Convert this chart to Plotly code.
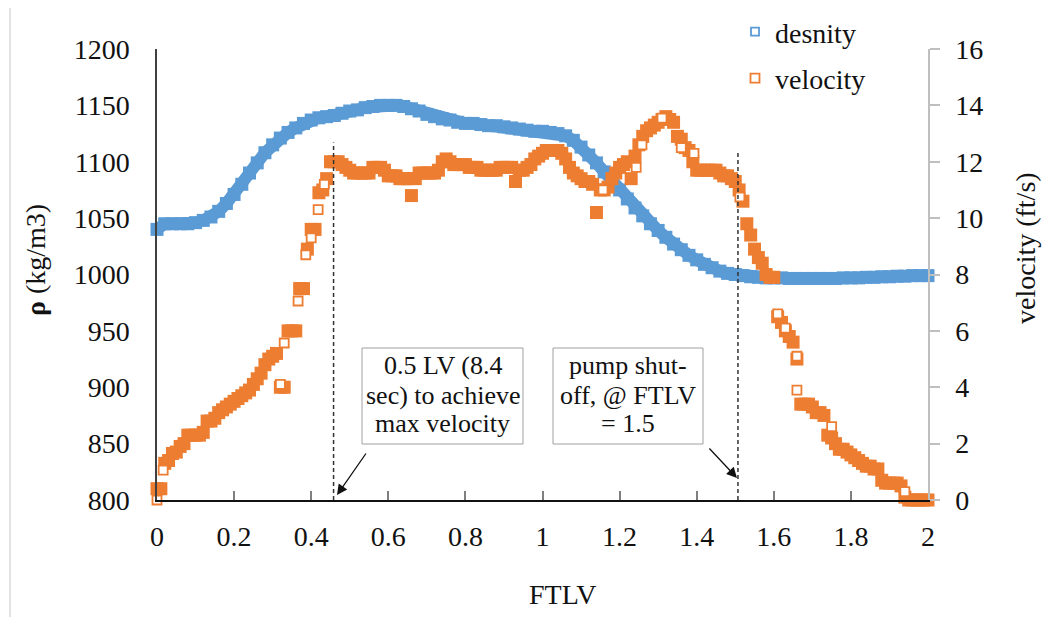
import plotly.graph_objects as go

# ---------------- data ----------------
ftlv_density = [round(i * 0.02, 2) for i in range(101)]
density = [1040, 1045, 1045, 1045, 1045, 1046, 1048, 1051, 1056, 1063,
           1071, 1080, 1090, 1099, 1108, 1115, 1121, 1126, 1130, 1134,
           1137, 1139, 1140, 1141, 1143, 1145, 1146, 1148, 1149, 1150,
           1150, 1150, 1149, 1147, 1145, 1142, 1140, 1138, 1137, 1135,
           1134, 1134, 1133, 1132, 1132, 1131, 1130, 1129, 1128, 1127,
           1127, 1126, 1125, 1123, 1119, 1113, 1106, 1099, 1091, 1083,
           1075, 1067, 1059, 1052, 1045, 1039, 1033, 1027, 1022, 1017,
           1013, 1009, 1006, 1003, 1001, 1000, 999, 998, 997.5, 997,
           997, 997, 996.5, 996.5, 996.5, 996.5, 996.5, 996.5, 996.5, 997,
           997, 997, 997.5, 997.5, 998, 998, 998.5, 998.5, 999, 999, 999]

ftlv_velocity = [round(i * 0.01, 2) for i in range(201)]
velocity = [0.4, 0.4, 1.3, 1.4, 1.65, 1.7, 1.9, 2.0, 2.3, 2.3,
            2.3, 2.3, 2.4, 2.8, 2.8, 2.9, 3.1, 3.2, 3.3, 3.4,
            3.5, 3.6, 3.7, 3.8, 3.9, 4.1, 4.3, 4.5, 4.8, 5.0,
            5.1, 5.2, 4.0, 4.0, 6.0, 6.0, 6.0, 7.5, 7.5, 8.9,
            9.6, 9.6, 10.9, 11.0, 11.4, 12.0, 12.0, 12.0, 11.9, 11.8,
            11.7, 11.6, 11.6, 11.6, 11.6, 11.6, 11.8, 11.8, 11.8, 11.7,
            11.5, 11.5, 11.5, 11.4, 11.4, 11.4, 10.8, 11.4, 11.6, 11.6,
            11.6, 11.6, 11.6, 11.7, 12.0, 12.1, 12.0, 11.9, 11.9, 11.9,
            11.9, 11.8, 11.8, 11.8, 11.7, 11.7, 11.7, 11.7, 11.7, 11.8,
            11.8, 11.8, 11.8, 11.3, 11.7, 11.7, 11.8, 11.9, 12.1, 12.2,
            12.3, 12.4, 12.4, 12.4, 12.4, 12.3, 12.1, 11.8, 11.6, 11.5,
            11.4, 11.3, 11.3, 11.2, 10.2, 11.0, 11.0, 11.1, 11.4, 11.6,
            11.8, 11.9, 12.0, 11.4, 12.2, 12.6, 12.9, 13.1, 13.2, 13.3,
            13.4, 13.5, 13.6, 13.5, 13.4, 12.9, 12.8, 12.5, 12.4, 12.0,
            11.7, 11.7, 11.7, 11.7, 11.7, 11.7, 11.6, 11.5, 11.5, 11.4,
            11.3, 11.0, 10.6, 9.8, 9.4, 8.9, 8.6, 8.4, 8.0, 7.9,
            7.9, 6.5, 6.3, 6.0, 5.8, 5.6, 5.0, 3.4, 3.4, 3.4,
            3.3, 3.1, 3.1, 3.0, 2.3, 2.2, 2.0, 1.8, 1.8, 1.7,
            1.6, 1.5, 1.4, 1.3, 1.2, 1.2, 1.1, 1.1, 0.7, 0.6,
            0.6, 0.6, 0.6, 0.5, 0.1, 0.0, 0.0, 0.0, 0.0, 0.0,
            0.0]

# single (non-overlapped) velocity samples that show as hollow squares
ftlv_velocity_single = [0.0, 0.016, 0.32, 0.33, 0.366, 0.386, 0.40, 0.418, 0.434,
                        1.157, 1.243, 1.258, 1.31, 1.36, 1.393, 1.512,
                        1.61, 1.63, 1.66, 1.66, 1.75, 1.94]
velocity_single = [0.0, 1.06, 4.1, 5.57, 7.06, 8.7, 9.3, 10.3, 11.2,
                   11.0, 11.8, 12.6, 13.55, 12.5, 12.3, 10.75,
                   6.6, 6.1, 5.1, 3.9, 2.6, 0.3]

x_ticks = [0, 0.2, 0.4, 0.6, 0.8, 1, 1.2, 1.4, 1.6, 1.8, 2]
rho_ticks = [800, 850, 900, 950, 1000, 1050, 1100, 1150, 1200]
vel_ticks = [0, 2, 4, 6, 8, 10, 12, 14, 16]

ref_lines_x = [0.458, 1.507]
ref_lines_top = [1117, 1108]

# ---------------- style ----------------
BLUE = "#5B9BD5"
ORANGE = "#ED7D31"
FONT = "'Liberation Serif', 'Times New Roman', Times, 'DejaVu Serif', serif"
TXT = "#111111"

# the page body adds an 8 px offset; size the figure so the plot lands where wanted
OFF = 8
W, H = 1050 - OFF, 617 - OFF
SL, ST = 157, 49          # plot-area left/top in screen pixels
PW, PH = 771, 451         # plot-area size
L, T = SL - OFF, ST - OFF
R, B = W - L - PW, H - T - PH


def px(xp):
    return (xp - SL) / PW


def py(yp):
    return (ST + PH - yp) / PH


fig = go.Figure()

fig.add_trace(go.Scatter(
    x=ftlv_density, y=density, mode="lines+markers", yaxis="y",
    line=dict(color=BLUE, width=12),
    marker=dict(symbol="square", size=13, color=BLUE),
    showlegend=False, cliponaxis=False, hoverinfo="skip"))

fig.add_trace(go.Scatter(
    x=[None], y=[None], mode="markers", name="desnity", legendgroup="d",
    marker=dict(symbol="square", size=8, color="white",
                line=dict(color=BLUE, width=1.8))))

fig.add_trace(go.Scatter(
    x=ftlv_velocity, y=velocity, mode="markers", yaxis="y2",
    marker=dict(symbol="square", size=13, color=ORANGE),
    showlegend=False, cliponaxis=False))

fig.add_trace(go.Scatter(
    x=ftlv_velocity_single, y=velocity_single, mode="markers", yaxis="y2",
    name="velocity", legendgroup="v",
    marker=dict(symbol="square", size=9, color="white",
                line=dict(color=ORANGE, width=1.8)),
    cliponaxis=False))

shapes = []
for xv, top in zip(ref_lines_x, ref_lines_top):
    shapes.append(dict(type="line", xref="x", yref="y", x0=xv, x1=xv, y0=800, y1=top,
                       line=dict(color="#333333", width=1.5, dash="4px,3px")))
# chart outer border (only left and top edges fall inside the view)
shapes.append(dict(type="rect", xref="paper", yref="paper",
                   x0=px(10), x1=px(1070), y0=py(640), y1=py(4),
                   line=dict(color="#D9D9D9", width=1.5), layer="below"))
# annotation boxes
for x0, x1 in [(362, 523), (553, 703)]:
    shapes.append(dict(type="rect", xref="paper", yref="paper",
                       x0=px(x0), x1=px(x1), y0=py(444), y1=py(348),
                       line=dict(color="#A0A0A0", width=1), fillcolor="white"))

annotations = []
box_texts = [(442.5, ["0.5 LV (8.4", "sec) to achieve", "max velocity"]),
             (628, ["pump shut-", "off, @ FTLV", "= 1.5"])]
for cx, lines in box_texts:
    for ly, t in zip([365, 395, 423], lines):
        annotations.append(dict(xref="paper", yref="paper", x=px(cx), y=py(ly),
                                xanchor="center", yanchor="middle",
                                text=t, showarrow=False,
                                font=dict(family=FONT, size=26, color=TXT)))

# arrows
annotations.append(dict(xref="x", yref="y", x=(337 - SL) / 385.5, y=1200 - (495 - ST) / 1.1275,
                        ax=30, ay=-43, text="", showarrow=True, arrowhead=2,
                        arrowsize=1.6, arrowwidth=1.3, arrowcolor="#111111"))
annotations.append(dict(xref="x", yref="y", x=(737 - SL) / 385.5, y=1200 - (478 - ST) / 1.1275,
                        ax=-29, ay=-31, text="", showarrow=True, arrowhead=2,
                        arrowsize=1.6, arrowwidth=1.3, arrowcolor="#111111"))

# axis titles
annotations.append(dict(xref="paper", yref="paper", x=px(35), y=py(260),
                        xanchor="center", yanchor="middle",
                        text="<b>ρ</b> (kg/m3)", textangle=-90, showarrow=False,
                        font=dict(family=FONT, size=28, color=TXT)))
annotations.append(dict(xref="paper", yref="paper", x=px(1025), y=py(248),
                        xanchor="center", yanchor="middle",
                        text="velocity (ft/s)", textangle=-90, showarrow=False,
                        font=dict(family=FONT, size=28, color=TXT)))
annotations.append(dict(xref="paper", yref="paper", x=px(562), y=py(594),
                        xanchor="center", yanchor="middle",
                        text="FTLV", showarrow=False,
                        font=dict(family=FONT, size=28, color=TXT)))

fig.update_layout(
    template="none",
    width=W, height=H,
    margin=dict(l=L, r=R, t=T, b=B, autoexpand=False),
    paper_bgcolor="white", plot_bgcolor="white",
    font=dict(family=FONT, size=28, color=TXT),
    showlegend=True,
    legend=dict(x=px(735), y=py(7), xanchor="left", yanchor="top",
                bgcolor="rgba(0,0,0,0)", font=dict(family=FONT, size=28, color=TXT),
                tracegroupgap=7, itemwidth=30),
    xaxis=dict(range=[0, 2], tickvals=x_ticks, ticktext=[str(v) for v in x_ticks],
               ticks="inside", ticklen=9, tickwidth=1.5, tickcolor="#7F7F7F",
               showline=True, linecolor="#111111", linewidth=1.5, automargin=False,
               showgrid=False, zeroline=False, ticklabelstandoff=11,
               tickfont=dict(family=FONT, size=28, color=TXT)),
    yaxis=dict(range=[800, 1200], tickvals=rho_ticks, ticks="",
               showline=True, linecolor="#404040", linewidth=1.5, automargin=False,
               showgrid=False, zeroline=False, ticklabelstandoff=20,
               tickfont=dict(family=FONT, size=28, color=TXT)),
    yaxis2=dict(range=[0, 16], tickvals=vel_ticks, overlaying="y", side="right",
                ticks="outside", ticklen=10, tickwidth=1.5, tickcolor="#BFBFBF",
                showline=True, linecolor="#BFBFBF", linewidth=1.5, automargin=False,
                showgrid=False, zeroline=False, ticklabelstandoff=10,
                tickfont=dict(family=FONT, size=28, color=TXT)),
    shapes=shapes,
    annotations=annotations,
)

fig.write_html("out.html")
